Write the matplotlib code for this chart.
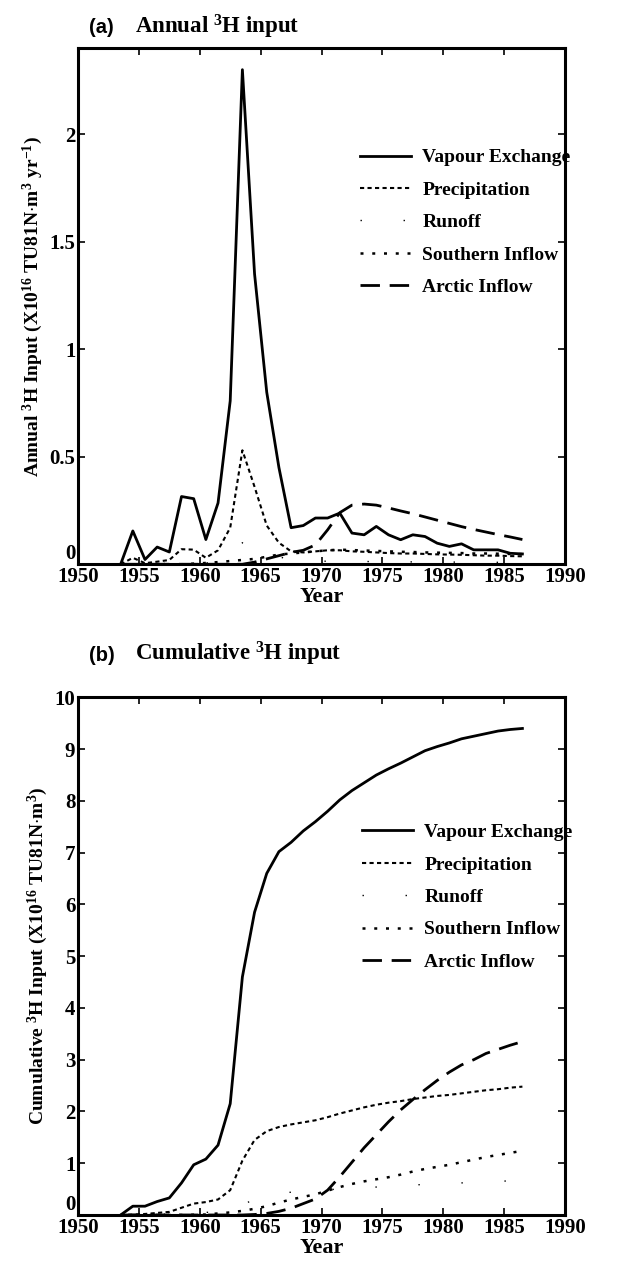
import matplotlib
matplotlib.use('Agg')
import matplotlib.pyplot as plt

# mid-year points, 1953.5 .. 1986.5
years = [1953.5 + i for i in range(34)]

# annual 3H input (x10^16 TU81N m3 / yr)
vapour_annual = [0.0, 0.155, 0.022, 0.08, 0.057, 0.315, 0.305, 0.115, 0.285, 0.76,
                 2.3, 1.35, 0.8, 0.45, 0.17, 0.18, 0.215, 0.215, 0.238, 0.145,
                 0.137, 0.176, 0.137, 0.114, 0.137, 0.129, 0.098, 0.083, 0.095, 0.067,
                 0.067, 0.067, 0.051, 0.048]
precip_annual = [0.0, 0.03, 0.005, 0.012, 0.02, 0.07, 0.068, 0.03, 0.065, 0.17,
                 0.53, 0.36, 0.18, 0.1, 0.06, 0.055, 0.06, 0.065, 0.065, 0.06,
                 0.058, 0.055, 0.052, 0.05, 0.05, 0.048, 0.046, 0.045, 0.044, 0.042,
                 0.04, 0.04, 0.038, 0.037]
runoff_annual = [0.0, 0.005, 0.002, 0.003, 0.004, 0.012, 0.012, 0.006, 0.012, 0.03,
                 0.1, 0.09, 0.06, 0.035, 0.02, 0.015, 0.015, 0.014, 0.014, 0.013,
                 0.013, 0.012, 0.012, 0.011, 0.011, 0.011, 0.01, 0.01, 0.01, 0.009,
                 0.009, 0.009, 0.008, 0.008]
southern_annual = [0.0, 0.0, 0.0, 0.0, 0.0, 0.0, 0.003, 0.006, 0.01, 0.015,
                   0.02, 0.025, 0.035, 0.045, 0.05, 0.055, 0.06, 0.065, 0.068, 0.066,
                   0.064, 0.062, 0.06, 0.058, 0.057, 0.055, 0.054, 0.053, 0.052, 0.05,
                   0.05, 0.049, 0.048, 0.047]
arctic_annual = [0.0, 0.0, 0.0, 0.0, 0.0, 0.0, 0.0, 0.0, 0.0, 0.0,
                 0.0, 0.01, 0.025, 0.04, 0.055, 0.065, 0.09, 0.16, 0.24, 0.275,
                 0.28, 0.275, 0.262, 0.248, 0.235, 0.22, 0.205, 0.19, 0.175, 0.162,
                 0.15, 0.138, 0.127, 0.115]

# cumulative 3H input (x10^16 TU81N m3)
vapour_cum = [0.0, 0.17, 0.17, 0.26, 0.33, 0.62, 0.97, 1.08, 1.35, 2.15,
              4.6, 5.85, 6.6, 7.02, 7.2, 7.42, 7.6, 7.8, 8.02, 8.2,
              8.35, 8.5, 8.62, 8.73, 8.85, 8.97, 9.05, 9.12, 9.2, 9.25,
              9.3, 9.35, 9.38, 9.4]
precip_cum = [0.0, 0.01, 0.02, 0.04, 0.06, 0.14, 0.22, 0.25, 0.3, 0.48,
              1.05, 1.45, 1.62, 1.7, 1.75, 1.79, 1.83, 1.89, 1.96, 2.02,
              2.08, 2.13, 2.17, 2.2, 2.24, 2.27, 2.3, 2.32, 2.35, 2.38,
              2.41, 2.43, 2.46, 2.48]
runoff_cum = [0.0, 0.0, 0.01, 0.01, 0.02, 0.03, 0.04, 0.05, 0.06, 0.09,
              0.2, 0.3, 0.38, 0.42, 0.44, 0.46, 0.47, 0.49, 0.5, 0.52,
              0.53, 0.54, 0.55, 0.56, 0.58, 0.59, 0.6, 0.61, 0.62, 0.63,
              0.64, 0.65, 0.66, 0.66]
southern_cum = [0.0, 0.0, 0.0, 0.0, 0.0, 0.0, 0.005, 0.01, 0.03, 0.05,
                0.08, 0.12, 0.17, 0.24, 0.3, 0.35, 0.4, 0.47, 0.54, 0.6,
                0.65, 0.69, 0.73, 0.78, 0.84, 0.89, 0.93, 0.97, 1.02, 1.07,
                1.12, 1.16, 1.2, 1.24]
arctic_cum = [0.0, 0.0, 0.0, 0.0, 0.0, 0.0, 0.0, 0.0, 0.0, 0.0,
              0.0, 0.01, 0.03, 0.07, 0.13, 0.22, 0.31, 0.48, 0.74, 1.02,
              1.3, 1.55, 1.8, 2.03, 2.23, 2.42, 2.6, 2.76, 2.9, 3.0,
              3.12, 3.2, 3.28, 3.35]

labels = ['Vapour Exchange', 'Precipitation', 'Runoff', 'Southern Inflow', 'Arctic Inflow']
styles = [
  dict(linestyle='-', linewidth=2.0),
  dict(linestyle=(0, (2.0, 1.6)), linewidth=1.5),
  dict(linestyle=(0, (1.0, 30.0)), linewidth=1.0),
  dict(linestyle=(0, (1.2, 3.5)), linewidth=1.8),
  dict(linestyle=(0, (7.0, 3.5)), linewidth=2.0),
]

plt.rcParams['font.family'] = ['Liberation Serif', 'DejaVu Serif']
plt.rcParams['font.weight'] = 'bold'
plt.rcParams['mathtext.fontset'] = 'custom'
plt.rcParams['mathtext.rm'] = 'Liberation Serif:bold'
plt.rcParams['mathtext.it'] = 'Liberation Serif:bold'
plt.rcParams['mathtext.bf'] = 'Liberation Serif:bold'

fig = plt.figure(figsize=(6.37, 12.68), dpi=100)
ax_a = fig.add_axes([0.1225, 0.555, 0.7645, 0.407])
ax_b = fig.add_axes([0.1225, 0.0418, 0.7645, 0.4082])


def style_axes(ax, ylim, yticks, yticklabels, ylabel, leg_anchor):
  ax.set_xlim(1950, 1990)
  ax.set_ylim(*ylim)
  ax.set_xticks(range(1950, 1991, 5))
  ax.set_yticks(yticks)
  ax.set_yticklabels(yticklabels)
  ax.tick_params(direction='in', top=True, right=True, length=5, width=1.2,
                 labelsize=15, pad=2)
  for lab in ax.get_xticklabels() + ax.get_yticklabels():
    lab.set_fontweight('bold')
  # the "0" sits just above the corner, clear of "1950"
  ax.get_yticklabels()[0].set_verticalalignment('bottom')
  for sp in ax.spines.values():
    sp.set_linewidth(2.2)
  ax.set_xlabel('Year', fontsize=16, fontweight='bold', labelpad=0)
  ax.set_ylabel(ylabel, fontsize=14, fontweight='bold', labelpad=3)
  ax.legend(loc='upper left', bbox_to_anchor=leg_anchor, frameon=False,
            borderpad=0, borderaxespad=0,
            handlelength=2.6, handletextpad=0.6, labelspacing=0.76,
            prop=dict(size=14, weight='bold'))


annual = [vapour_annual, precip_annual, runoff_annual, southern_annual, arctic_annual]
cumulative = [vapour_cum, precip_cum, runoff_cum, southern_cum, arctic_cum]

for vals, lab, st in zip(annual, labels, styles):
  ax_a.plot(years, vals, color='black', label=lab, **st)
for vals, lab, st in zip(cumulative, labels, styles):
  ax_b.plot(years, vals, color='black', label=lab, **st)

style_axes(ax_a, (0, 2.4), [0, 0.5, 1, 1.5, 2], ['0', '0.5', '1', '1.5', '2'],
           r'Annual $^{3}$H Input (X10$^{16}$ TU81N$\cdot$m$^{3}$ yr$^{-1}$)',
           (0.579, 0.805))
style_axes(ax_b, (0, 10), range(0, 11), [str(i) for i in range(11)],
           r'Cumulative $^{3}$H Input (X10$^{16}$ TU81N$\cdot$m$^{3}$)',
           (0.583, 0.756))

# panel titles
fig.text(0.140, 0.978, '(a)', family='Liberation Sans', fontsize=14.5, fontweight='bold',
         ha='left', va='center')
fig.text(0.212, 0.979, r'Annual $^{3}$H input', fontsize=16.5, fontweight='bold',
         ha='left', va='center')
fig.text(0.140, 0.483, '(b)', family='Liberation Sans', fontsize=14.5, fontweight='bold',
         ha='left', va='center')
fig.text(0.212, 0.484, r'Cumulative $^{3}$H input', fontsize=16.5, fontweight='bold',
         ha='left', va='center')

fig.savefig('out.png', dpi=100)
plt.close(fig)
